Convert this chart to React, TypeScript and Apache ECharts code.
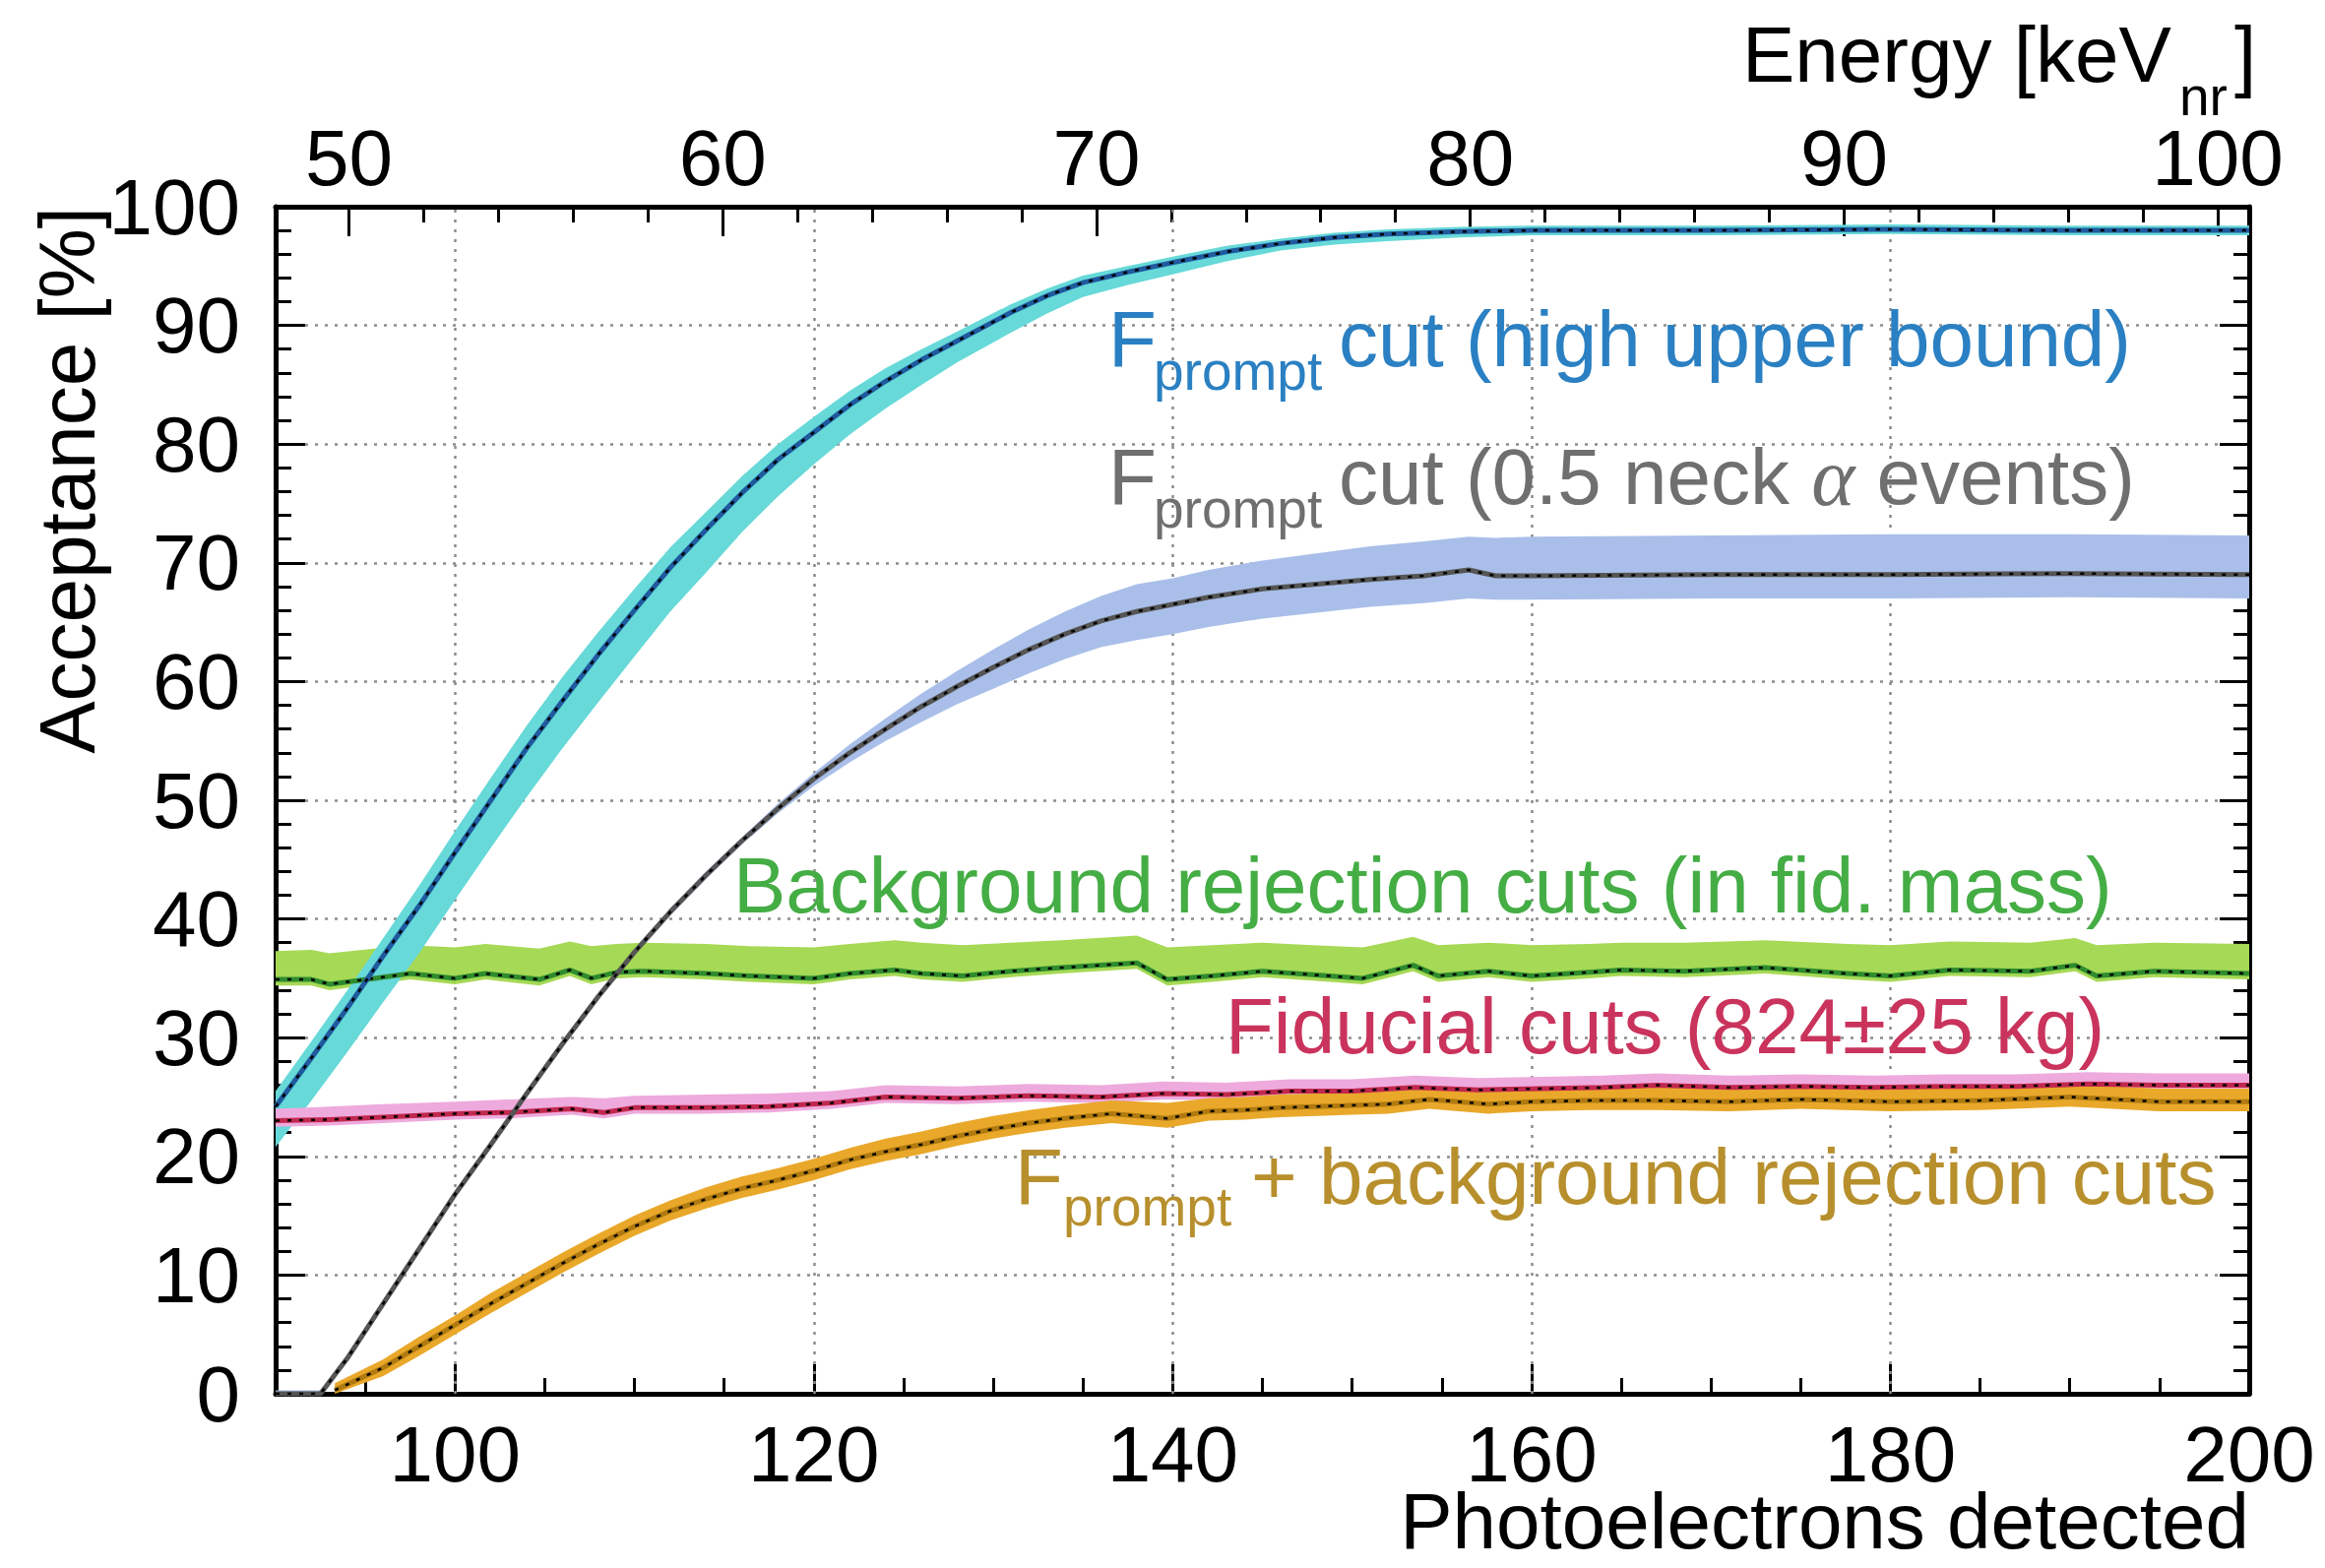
import React, { useEffect, useRef } from 'react';
import * as echarts from 'echarts';

const FONT = '"Liberation Sans", Arial, Helvetica, sans-serif';

// ---------- axis tick values ----------
const peMajor = [100, 120, 140, 160, 180, 200];
const peMinor = [95, 100, 105, 110, 115, 120, 125, 130, 135, 140, 145, 150, 155, 160, 165, 170, 175, 180, 185, 190, 195];
const peGrid = [100, 120, 140, 160, 180];
const eMajor = [50, 60, 70, 80, 90, 100];
const eMinor = [50, 52, 54, 56, 58, 60, 62, 64, 66, 68, 70, 72, 74, 76, 78, 80, 82, 84, 86, 88, 90, 92, 94, 96, 98, 100];

// ---------- Fprompt cut (high upper bound) ----------
const blueX = [90, 92, 94, 96, 98, 100, 102, 104, 106, 108, 110, 112, 114, 116, 118, 120, 122, 124, 126, 128, 131, 133, 135, 137.5, 140, 143, 146, 149, 152, 156, 160, 170, 180, 190, 200];
const blueMid = [24.2, 28.3, 32.5, 36.9, 41.1, 45.6, 50.0, 54.4, 58.4, 62.3, 66.0, 69.6, 72.8, 75.9, 78.7, 81.0, 83.3, 85.3, 87.1, 88.7, 91.1, 92.5, 93.6, 94.5, 95.3, 96.2, 96.9, 97.4, 97.7, 97.9, 98.0, 98.0, 98.1, 98.0, 98.0];
const blueUp = [25.5, 29.7, 34.0, 38.4, 42.8, 47.4, 51.9, 56.3, 60.4, 64.2, 67.8, 71.3, 74.3, 77.3, 80.0, 82.3, 84.5, 86.4, 88.0, 89.5, 91.8, 93.1, 94.2, 95.0, 95.8, 96.7, 97.3, 97.8, 98.1, 98.3, 98.4, 98.4, 98.5, 98.4, 98.4];
const blueLo = [20.8, 24.7, 28.8, 33.0, 37.1, 41.6, 46.0, 50.3, 54.4, 58.3, 62.1, 65.9, 69.2, 72.6, 75.6, 78.3, 80.8, 83.0, 85.0, 86.9, 89.4, 91.0, 92.4, 93.4, 94.3, 95.4, 96.3, 96.8, 97.1, 97.4, 97.6, 97.6, 97.7, 97.6, 97.6];

// ---------- Fprompt cut (0.5 neck alpha events) ----------
const grayX = [90, 92.5, 94, 96, 98, 100, 102, 104, 106, 108, 110, 112, 114, 116, 118, 120, 122, 124, 126, 128, 130, 132, 134, 136, 138, 140, 142, 145, 148, 151, 154, 156.5, 158, 160, 170, 180, 190, 200];
const grayMid = [0, 0, 3.0, 7.6, 12.2, 16.8, 21.0, 25.3, 29.5, 33.5, 37.2, 40.6, 43.7, 46.6, 49.3, 51.8, 54.0, 56.0, 57.9, 59.6, 61.2, 62.7, 64.0, 65.1, 65.9, 66.5, 67.1, 67.8, 68.2, 68.6, 68.9, 69.4, 68.9, 68.9, 69.0, 69.0, 69.1, 69.0];
const grayUp = [0.3, 0.3, 3.3, 7.9, 12.5, 17.1, 21.3, 25.6, 29.8, 33.8, 37.5, 40.9, 44.0, 46.9, 49.7, 52.3, 54.7, 56.9, 59.0, 60.9, 62.7, 64.4, 65.9, 67.2, 68.2, 68.7, 69.4, 70.2, 70.8, 71.4, 71.8, 72.2, 72.1, 72.2, 72.3, 72.4, 72.4, 72.3];
const grayLo = [0, 0, 2.7, 7.3, 11.9, 16.5, 20.7, 25.0, 29.2, 33.2, 36.9, 40.3, 43.4, 46.3, 48.9, 51.2, 53.2, 55.0, 56.6, 58.1, 59.4, 60.7, 61.9, 62.9, 63.5, 64.0, 64.6, 65.3, 65.8, 66.3, 66.6, 67.0, 66.9, 66.9, 67.0, 67.0, 67.1, 67.0];

// ---------- Background rejection cuts (in fid. mass) ----------
const greenX = [90, 92, 93, 95.5, 97.5, 100, 101.7, 104.7, 106.4, 107.6, 109, 110.5, 114, 116.4, 120, 122, 124.5, 126, 128.3, 131, 133.8, 138, 139.7, 142.2, 145, 147.8, 150.6, 153.4, 154.8, 157.6, 160, 163.2, 165, 168.5, 173, 177.6, 180, 183.3, 187.8, 190.3, 191.5, 194.7, 200];
const greenMid = [34.9, 34.9, 34.5, 35.0, 35.4, 35.0, 35.4, 34.9, 35.7, 35.0, 35.5, 35.6, 35.4, 35.2, 35.0, 35.4, 35.7, 35.4, 35.2, 35.6, 35.9, 36.3, 34.9, 35.2, 35.6, 35.3, 35.0, 36.1, 35.2, 35.6, 35.2, 35.5, 35.7, 35.6, 35.9, 35.4, 35.2, 35.7, 35.6, 36.1, 35.2, 35.6, 35.4];
const greenUp = [37.3, 37.4, 37.1, 37.5, 37.8, 37.6, 37.9, 37.5, 38.1, 37.7, 37.9, 38.0, 37.9, 37.7, 37.6, 37.9, 38.2, 38.0, 37.8, 38.0, 38.2, 38.6, 37.6, 37.8, 38.0, 37.8, 37.6, 38.5, 37.8, 38.0, 37.8, 37.9, 38.0, 38.0, 38.2, 37.9, 37.8, 38.1, 38.0, 38.4, 37.8, 38.0, 37.9];
const greenLo = [34.4, 34.4, 34.0, 34.5, 34.9, 34.5, 34.9, 34.4, 35.2, 34.5, 35.0, 35.1, 34.9, 34.7, 34.5, 34.9, 35.2, 34.9, 34.7, 35.1, 35.4, 35.8, 34.4, 34.7, 35.1, 34.8, 34.5, 35.6, 34.7, 35.1, 34.7, 35.0, 35.2, 35.1, 35.4, 34.9, 34.7, 35.2, 35.1, 35.6, 34.7, 35.1, 34.9];

// ---------- Fiducial cuts (824±25 kg) ----------
const redX = [90, 93, 96, 100, 103, 106.5, 108.3, 110, 114, 117.5, 121, 124, 128, 132, 136, 139.5, 143, 146.5, 150, 153.5, 157, 160.5, 164, 167, 171, 175, 179, 183, 187, 191, 195, 200];
const redMid = [23.0, 23.1, 23.3, 23.6, 23.7, 24.0, 23.7, 24.1, 24.1, 24.2, 24.5, 25.0, 24.9, 25.1, 25.0, 25.3, 25.2, 25.5, 25.5, 25.8, 25.6, 25.7, 25.8, 26.0, 25.8, 25.9, 25.8, 25.9, 25.9, 26.1, 26.0, 26.0];
const redUp = [24.0, 24.2, 24.4, 24.6, 24.8, 25.0, 24.9, 25.1, 25.2, 25.3, 25.5, 26.0, 25.9, 26.1, 26.0, 26.3, 26.2, 26.5, 26.5, 26.8, 26.6, 26.7, 26.8, 27.0, 26.8, 26.9, 26.8, 26.9, 26.9, 27.1, 27.0, 27.0];
const redLo = [22.5, 22.6, 22.8, 23.1, 23.2, 23.5, 23.2, 23.6, 23.6, 23.7, 24.0, 24.5, 24.4, 24.6, 24.5, 24.8, 24.7, 25.0, 25.0, 25.3, 25.1, 25.2, 25.3, 25.5, 25.3, 25.4, 25.3, 25.4, 25.4, 25.6, 25.5, 25.5];

// ---------- Fprompt + background rejection cuts ----------
const orangeX = [93.3, 96, 98, 100, 102, 104, 106, 108, 110, 112, 114, 116, 118, 120, 122, 124, 126, 128, 130, 132, 134, 136.6, 139.7, 142, 144, 146, 148, 150, 152, 154.3, 157.6, 160, 163.2, 167, 171, 175, 180, 185, 190, 195, 200];
const orangeMid = [0.3, 2.2, 4.0, 5.8, 7.6, 9.3, 11.0, 12.6, 14.1, 15.4, 16.4, 17.3, 18.0, 18.8, 19.7, 20.4, 21.0, 21.7, 22.3, 22.8, 23.2, 23.6, 23.2, 23.8, 23.9, 24.1, 24.2, 24.3, 24.4, 24.8, 24.4, 24.6, 24.7, 24.7, 24.6, 24.8, 24.6, 24.7, 25.0, 24.6, 24.6];
const orangeUp = [0.9, 2.9, 4.8, 6.6, 8.5, 10.2, 11.9, 13.5, 15.0, 16.3, 17.4, 18.3, 19.0, 19.8, 20.7, 21.5, 22.1, 22.8, 23.4, 23.9, 24.3, 24.7, 24.5, 24.9, 25.0, 25.2, 25.3, 25.4, 25.5, 25.9, 25.5, 25.7, 25.8, 25.8, 25.7, 25.9, 25.7, 25.8, 26.1, 25.7, 25.7];
const orangeLo = [0, 1.5, 3.2, 5.0, 6.8, 8.5, 10.2, 11.8, 13.3, 14.6, 15.6, 16.5, 17.2, 18.0, 18.9, 19.6, 20.2, 20.9, 21.5, 22.0, 22.4, 22.8, 22.4, 23.0, 23.1, 23.3, 23.4, 23.5, 23.6, 24.0, 23.6, 23.8, 23.9, 23.9, 23.8, 24.0, 23.8, 23.9, 24.2, 23.8, 23.8];

const pairs = (xs: number[], ys: number[]) => xs.map((x, i) => [x, ys[i]]);

function band(xs: number[], up: number[], lo: number[], color: string, z: number) {
  return {
    type: 'custom',
    coordinateSystem: 'cartesian2d',
    xAxisIndex: 0,
    yAxisIndex: 0,
    data: [[xs[0], lo[0]]],
    silent: true,
    clip: true,
    z,
    renderItem: (_params: any, api: any) => {
      const points: number[][] = [];
      for (let i = 0; i < xs.length; i++) points.push(api.coord([xs[i], up[i]]));
      for (let i = xs.length - 1; i >= 0; i--) points.push(api.coord([xs[i], lo[i]]));
      return { type: 'polygon', shape: { points }, style: { fill: color } };
    },
  };
}

function curve(xs: number[], ys: number[], color: string, z: number) {
  return [
    {
      type: 'line', xAxisIndex: 0, yAxisIndex: 0, data: pairs(xs, ys), symbol: 'none', showSymbol: false,
      lineStyle: { color, width: 5, join: 'round' }, silent: true, clip: true, z,
    },
    {
      type: 'line', xAxisIndex: 0, yAxisIndex: 0, data: pairs(xs, ys), symbol: 'none', showSymbol: false,
      lineStyle: { color: '#000', width: 2.5, type: [4, 8] }, silent: true, clip: true, z: z + 1,
    },
  ];
}

const tickStyle = { color: '#000', width: 3 };
const axisLineStyle = { color: '#000', width: 5 };
const gridStyle = { color: '#8c8c8c', width: 2.5, type: [3, 7] };
const labelStyle = { color: '#000', fontSize: 80, fontFamily: FONT };

function txt(text: string, x: number, y: number, color: string, size = 80, extra: any = {}) {
  return {
    type: 'text', x, y, silent: true, z: 50,
    style: { text, fill: color, fontSize: size, fontFamily: FONT, align: 'left', verticalAlign: 'middle', ...extra },
  };
}

export default function App() {
  const ref = useRef<HTMLDivElement>(null);
  useEffect(() => {
    if (!ref.current) return;
    const chart = echarts.init(ref.current, null, { renderer: 'svg' });
    const gray = '#6f6f6f';
    const option: any = {
      animation: false,
      backgroundColor: '#fff',
      grid: [
        { left: 280, right: 77, top: 210, bottom: 177 },
        { left: 280, right: 77, top: 210, bottom: 177 },
      ],
      xAxis: [
        {
          gridIndex: 0, type: 'value', position: 'bottom', min: 90, max: 200,
          axisLine: { show: true, onZero: false, lineStyle: axisLineStyle },
          axisTick: { show: true, inside: true, length: 30, lineStyle: tickStyle, customValues: peMajor },
          axisLabel: { show: true, margin: 30, lineHeight: 62, customValues: peMajor, ...labelStyle },
          splitLine: { show: false },
        },
        {
          gridIndex: 0, type: 'value', position: 'top', min: 48.04, max: 100.84,
          axisLine: { show: true, onZero: false, lineStyle: axisLineStyle },
          axisTick: { show: true, inside: true, length: 30, lineStyle: tickStyle, customValues: eMajor },
          axisLabel: { show: true, margin: 10, customValues: eMajor, ...labelStyle },
          splitLine: { show: false },
        },
        {
          gridIndex: 1, type: 'value', position: 'bottom', min: 90, max: 200,
          axisLine: { show: false, onZero: false },
          axisTick: { show: true, inside: true, length: 16, lineStyle: tickStyle, customValues: peMinor },
          axisLabel: { show: false },
          splitLine: { show: false },
        },
        {
          gridIndex: 1, type: 'value', position: 'top', min: 48.04, max: 100.84,
          axisLine: { show: false, onZero: false },
          axisTick: { show: true, inside: true, length: 16, lineStyle: tickStyle, customValues: eMinor },
          axisLabel: { show: false },
          splitLine: { show: false },
        },
      ],
      yAxis: [
        {
          gridIndex: 0, type: 'value', position: 'left', min: 0, max: 100, interval: 10,
          axisLine: { show: true, onZero: false, lineStyle: axisLineStyle },
          axisTick: { show: true, inside: true, length: 30, lineStyle: tickStyle },
          minorTick: { show: true, splitNumber: 5, length: 16, lineStyle: tickStyle },
          axisLabel: { show: true, margin: 36, ...labelStyle },
          splitLine: { show: true, lineStyle: gridStyle },
        },
        {
          gridIndex: 0, type: 'value', position: 'right', min: 0, max: 100, interval: 10,
          axisLine: { show: true, onZero: false, lineStyle: axisLineStyle },
          axisTick: { show: true, inside: true, length: 30, lineStyle: tickStyle },
          minorTick: { show: true, splitNumber: 5, length: 16, lineStyle: tickStyle },
          axisLabel: { show: false },
          splitLine: { show: false },
        },
        { gridIndex: 1, type: 'value', min: 0, max: 100, show: false },
      ],
      series: [
        {
          type: 'line', xAxisIndex: 0, yAxisIndex: 0, data: [[90, 0]], symbol: 'none',
          lineStyle: { opacity: 0 }, silent: true, z: 1,
          markLine: {
            silent: true, symbol: ['none', 'none'], label: { show: false }, z: 1,
            lineStyle: gridStyle, emphasis: { disabled: true },
            data: peGrid.map((v) => ({ xAxis: v })),
          },
        },
        band(grayX, grayUp, grayLo, '#a9bfe9', 3),
        band(greenX, greenUp, greenLo, '#a6d955', 3),
        band(blueX, blueUp, blueLo, '#66d9d8', 3),
        band(redX, redUp, redLo, '#eeaadd', 3),
        band(orangeX, orangeUp, orangeLo, '#e9a82a', 3),
        ...curve(greenX, greenMid, '#2e8b2e', 5),
        ...curve(redX, redMid, '#c0284e', 5),
        ...curve(orangeX, orangeMid, '#b07a10', 5),
        ...curve(blueX, blueMid, '#1f5a9e', 7),
        ...curve(grayX, grayMid, '#555555', 7),
      ],
      graphic: [
        {
          type: 'text', x: 68, y: 210, rotation: Math.PI / 2, silent: true,
          style: { text: 'Acceptance [%]', fill: '#000', fontSize: 80, fontFamily: FONT, align: 'right', verticalAlign: 'middle' },
        },
        txt('Photoelectrons detected', 2285, 1545, '#000', 80, { align: 'right', lineHeight: 62 }),
        txt('Energy [keV', 1770, 55, '#000'),
        txt('nr', 2214, 98, '#000', 55, { lineHeight: 40 }),
        txt(']', 2270, 55, '#000'),
        // Fprompt high upper bound
        txt('F', 1126, 344, '#2a80c2'),
        txt('prompt', 1172, 377, '#2a80c2', 55),
        txt('cut (high upper bound)', 1360, 344, '#2a80c2'),
        // Fprompt 0.5 neck alpha
        txt('F', 1126, 484, gray),
        txt('prompt', 1172, 517, gray, 55),
        {
          type: 'text', x: 1360, y: 484, silent: true, z: 50,
          style: {
            text: '{a|cut (0.5 neck }{b|α}{a| events)}',
            fill: gray, fontSize: 80, fontFamily: FONT, align: 'left', verticalAlign: 'middle',
            rich: {
              a: { fill: gray, fontSize: 80, fontFamily: FONT },
              b: { fill: gray, fontSize: 84, fontFamily: '"Liberation Serif", serif', fontStyle: 'italic' },
            },
          },
        },
        txt('Background rejection cuts (in fid. mass)', 745, 899, '#44ad44'),
        txt('Fiducial cuts (824±25 kg)', 1245, 1042, '#c9335c'),
        txt('F', 1031, 1195, '#b78f2c'),
        txt('prompt', 1080, 1226, '#b78f2c', 55),
        txt('+ background rejection cuts', 1271, 1195, '#b78f2c'),
      ],
    };
    chart.setOption(option);
    return () => chart.dispose();
  }, []);
  return (
    <div
      ref={ref}
      style={{ position: 'fixed', left: 0, top: 0, width: 2362, height: 1593, background: '#fff' }}
    />
  );
}
